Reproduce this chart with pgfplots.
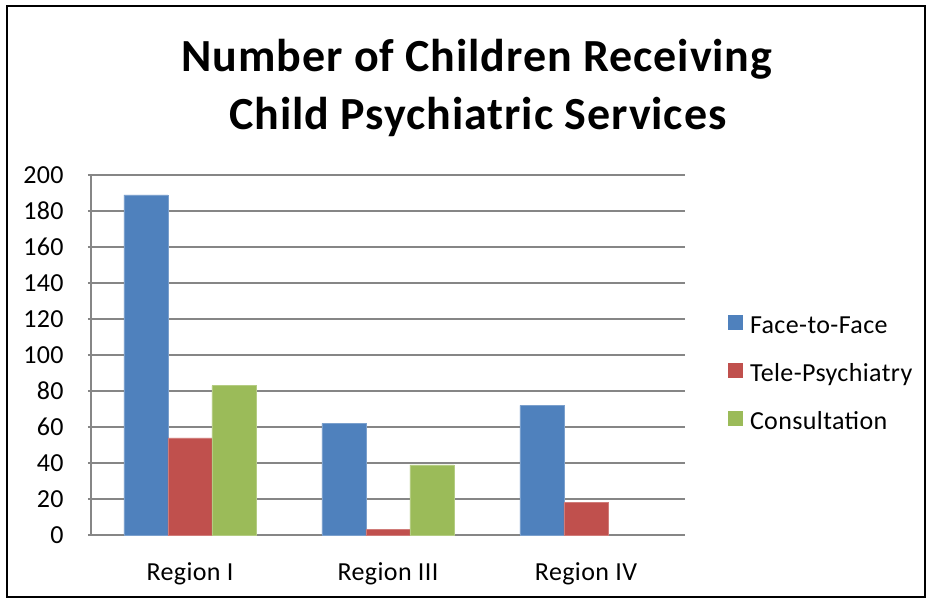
\documentclass[border=0pt]{standalone}
\usepackage{fontspec}
\setmainfont{Carlito}[LetterSpace=1.5]
\newfontfamily\titlefont{Carlito}[LetterSpace=2]
\usepackage{pgfplots}
\pgfplotsset{compat=1.18}
\newlength\px \setlength\px{0.5pt}
\definecolor{cblue}{HTML}{4F81BD}
\definecolor{cred}{HTML}{C0504D}
\definecolor{cgreen}{HTML}{9BBB59}
\definecolor{cgrid}{HTML}{868686}
\begin{document}
\begin{tikzpicture}
\useasboundingbox (0,0) rectangle (928\px,-600\px);
\draw[black, line width=1.5\px] (7\px,-6\px) rectangle (925\px,-597\px);
\node[anchor=base, inner sep=0pt, font=\titlefont\fontsize{23}{27}\selectfont\bfseries] at (477\px,-71\px) {Number of Children Receiving};
\node[anchor=base, inner sep=0pt, font=\titlefont\fontsize{23}{27}\selectfont\bfseries] at (478\px,-129\px) {Child Psychiatric Services};
\begin{axis}[
  at={(91\px,-535\px)}, anchor=south west,
  scale only axis, width=594\px, height=360\px,
  ymin=0, ymax=200, ytick distance=20,
  xmin=-0.5, xmax=2.5, xtick={0,1,2},
  xticklabels={Region I, Region III, Region IV},
  ybar=0pt, bar width=44\px,
  axis x line*=bottom, axis y line*=left,
  axis line style={cgrid, line width=1.5\px, -},
  ymajorgrids, grid style={cgrid, line width=1.5\px},
  xtick style={draw=none},
  ytick style={cgrid, line width=1.5\px},
  tick align=outside, major tick length=3\px,
  /pgf/number format/assume math mode=true,
  ticklabel style={font=\fontsize{13}{16}\selectfont, inner sep=0pt},
  yticklabel style={anchor=east, xshift=-24\px},
  xticklabel style={anchor=base, yshift=-42\px},
  legend style={draw=none, fill=none, at={(1.0724,0.447)}, anchor=west,
    inner sep=0pt, outer sep=0pt, row sep=25\px,
    nodes={inner sep=0pt, text height=12\px, text depth=4\px, font=\fontsize{13}{16}\selectfont},
    /tikz/every odd column/.append style={column sep=7\px}},
  legend cell align=left,
  legend image code/.code={\path[#1, draw=none] (0pt,0pt) rectangle (15\px,15\px);},
]
\addplot[fill=cblue, draw=cblue!75!white, line width=0.6\px] coordinates {(0,189) (1,62) (2,72)};
\addplot[fill=cred, draw=cred!75!white, line width=0.6\px] coordinates {(0,54) (1,3) (2,18)};
\addplot[fill=cgreen, draw=cgreen!75!white, line width=0.6\px] coordinates {(0,83) (1,39)};
\legend{Face-to-Face, Tele-Psychiatry, Consultation}
\end{axis}
\end{tikzpicture}
\end{document}
